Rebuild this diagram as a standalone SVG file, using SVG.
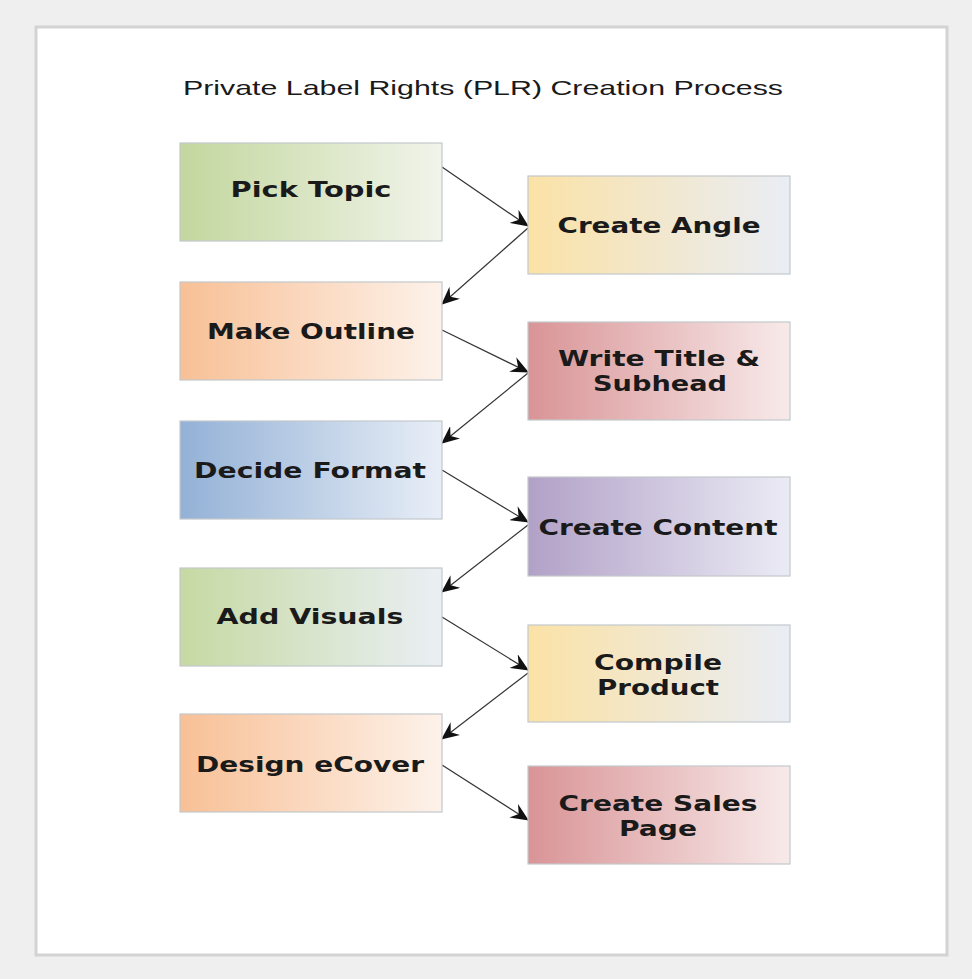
<svg xmlns="http://www.w3.org/2000/svg" width="972" height="979" viewBox="0 0 972 979">
<defs>
<linearGradient id="gGreen" x1="0" y1="0" x2="1" y2="0"><stop offset="0" stop-color="#c3d79e"/><stop offset="1" stop-color="#f1f4ea"/></linearGradient>
<linearGradient id="gGreen2" x1="0" y1="0" x2="1" y2="0"><stop offset="0" stop-color="#c6d9a3"/><stop offset="1" stop-color="#eaeff4"/></linearGradient>
<linearGradient id="gYellow" x1="0" y1="0" x2="1" y2="0"><stop offset="0" stop-color="#fbe2a6"/><stop offset="1" stop-color="#e9edf5"/></linearGradient>
<linearGradient id="gOrange" x1="0" y1="0" x2="1" y2="0"><stop offset="0" stop-color="#f8c096"/><stop offset="1" stop-color="#fdf2ea"/></linearGradient>
<linearGradient id="gRed" x1="0" y1="0" x2="1" y2="0"><stop offset="0" stop-color="#d99496"/><stop offset="1" stop-color="#f8eaea"/></linearGradient>
<linearGradient id="gBlue" x1="0" y1="0" x2="1" y2="0"><stop offset="0" stop-color="#93b1d6"/><stop offset="1" stop-color="#e8eef7"/></linearGradient>
<linearGradient id="gPurple" x1="0" y1="0" x2="1" y2="0"><stop offset="0" stop-color="#b2a1c7"/><stop offset="1" stop-color="#ebebf5"/></linearGradient>
<marker id="arr" viewBox="0 0 18 16" refX="17" refY="8" markerWidth="18" markerHeight="16" markerUnits="userSpaceOnUse" orient="auto">
<path d="M0,0 L18,8 L0,16 L6,8 Z" fill="#111"/>
</marker>
</defs>
<style>
.box{stroke:#c4c8cc;stroke-width:1.2}
.lbl{font-family:"DejaVu Sans",Verdana,sans-serif;font-weight:bold;font-size:22px;fill:#1a1a1a;text-anchor:middle}
.conn{stroke:#333;stroke-width:1.2;fill:none;marker-end:url(#arr)}
</style>
<rect x="0" y="0" width="972" height="979" fill="#efefef"/>
<rect x="36" y="27" width="911" height="928" fill="#ffffff" stroke="#d3d3d3" stroke-width="3"/>
<text x="483" y="95" font-family="'Liberation Sans',Arial,sans-serif" font-size="21" fill="#1a1a1a" text-anchor="middle" textLength="600" lengthAdjust="spacingAndGlyphs">Private Label Rights (PLR) Creation Process</text>

<g id="connectors">
<line class="conn" x1="442" y1="167" x2="528" y2="226"/>
<line class="conn" x1="528" y1="228" x2="442" y2="304"/>
<line class="conn" x1="442" y1="330" x2="528" y2="372"/>
<line class="conn" x1="528" y1="373" x2="442" y2="443"/>
<line class="conn" x1="442" y1="470" x2="528" y2="522"/>
<line class="conn" x1="528" y1="525" x2="442" y2="592"/>
<line class="conn" x1="442" y1="617" x2="528" y2="670"/>
<line class="conn" x1="528" y1="673" x2="442" y2="739"/>
<line class="conn" x1="442" y1="765" x2="528" y2="820"/>
</g>

<g id="pick-topic"><rect class="box" x="180" y="143" width="262" height="98" fill="url(#gGreen)"/><text class="lbl" x="311" y="197" textLength="161" lengthAdjust="spacingAndGlyphs">Pick Topic</text></g>
<g id="create-angle"><rect class="box" x="528" y="176" width="262" height="98" fill="url(#gYellow)"/><text class="lbl" x="659" y="233" textLength="203" lengthAdjust="spacingAndGlyphs">Create Angle</text></g>
<g id="make-outline"><rect class="box" x="180" y="282" width="262" height="98" fill="url(#gOrange)"/><text class="lbl" x="311" y="339" textLength="208" lengthAdjust="spacingAndGlyphs">Make Outline</text></g>
<g id="write-title"><rect class="box" x="528" y="322" width="262" height="98" fill="url(#gRed)"/><text class="lbl" x="659" y="366" textLength="202" lengthAdjust="spacingAndGlyphs">Write Title &amp;</text><text class="lbl" x="660" y="391" textLength="134" lengthAdjust="spacingAndGlyphs">Subhead</text></g>
<g id="decide-format"><rect class="box" x="180" y="421" width="262" height="98" fill="url(#gBlue)"/><text class="lbl" x="310" y="478" textLength="232" lengthAdjust="spacingAndGlyphs">Decide Format</text></g>
<g id="create-content"><rect class="box" x="528" y="477" width="262" height="99" fill="url(#gPurple)"/><text class="lbl" x="658" y="535" textLength="239" lengthAdjust="spacingAndGlyphs">Create Content</text></g>
<g id="add-visuals"><rect class="box" x="180" y="568" width="262" height="98" fill="url(#gGreen2)"/><text class="lbl" x="310" y="624" textLength="187" lengthAdjust="spacingAndGlyphs">Add Visuals</text></g>
<g id="compile-product"><rect class="box" x="528" y="625" width="262" height="97" fill="url(#gYellow)"/><text class="lbl" x="658" y="670" textLength="128" lengthAdjust="spacingAndGlyphs">Compile</text><text class="lbl" x="658" y="695" textLength="122" lengthAdjust="spacingAndGlyphs">Product</text></g>
<g id="design-ecover"><rect class="box" x="180" y="714" width="262" height="98" fill="url(#gOrange)"/><text class="lbl" x="310" y="772" textLength="228" lengthAdjust="spacingAndGlyphs">Design eCover</text></g>
<g id="create-sales-page"><rect class="box" x="528" y="766" width="262" height="98" fill="url(#gRed)"/><text class="lbl" x="658" y="811" textLength="199" lengthAdjust="spacingAndGlyphs">Create Sales</text><text class="lbl" x="658" y="836" textLength="78" lengthAdjust="spacingAndGlyphs">Page</text></g>
</svg>
